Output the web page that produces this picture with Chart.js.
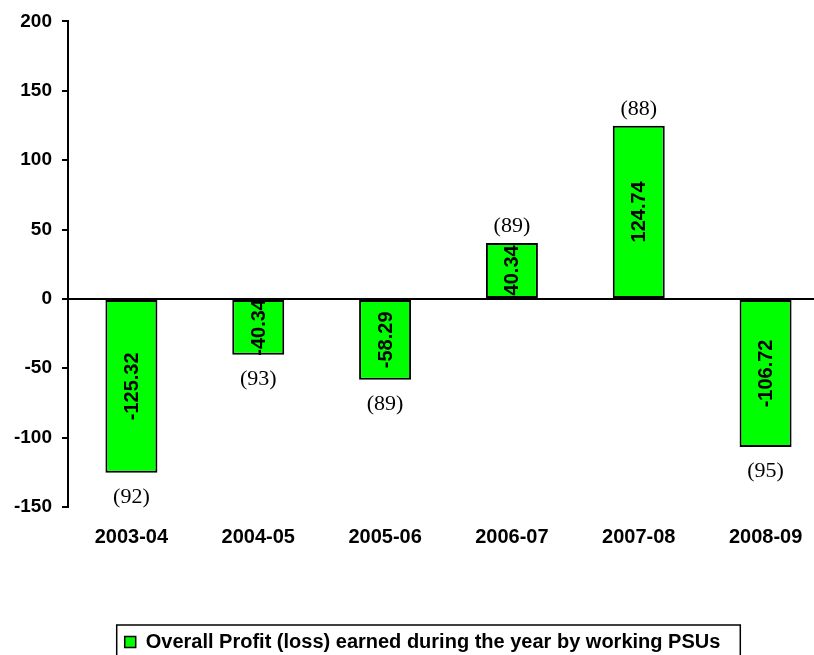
<!DOCTYPE html>
<html>
<head>
<meta charset="utf-8">
<script src="https://cdn.jsdelivr.net/npm/chart.js@4.4.0/dist/chart.umd.min.js"></script>
<style>
  html, body { margin: 0; padding: 0; background: #fff; overflow: hidden; }
  #wrap { position: absolute; left: 0; top: 0; width: 860px; height: 670px; }
</style>
</head>
<body>
<div id="wrap"><canvas id="chart" width="860" height="670"></canvas></div>
<script>
// data
const years = ['2003-04', '2004-05', '2005-06', '2006-07', '2007-08', '2008-09'];
const profit = [-125.32, -40.34, -58.29, 40.34, 124.74, -106.72];
const psuCount = [92, 93, 89, 89, 88, 95];
const seriesLabel = 'Overall Profit (loss) earned during the year by working PSUs';

const fontFamily = 'Arial, "Liberation Sans", sans-serif';
const legendShift = 8;

// value inside each bar (rotated) and the PSU count beyond the bar end
const barLabels = {
    id: 'barLabels',
    afterDatasetsDraw(chart) {
        const ctx = chart.ctx;
        const meta = chart.getDatasetMeta(0);
        meta.data.forEach(function(bar, i) {
            const v = profit[i];
            const mid = (bar.y + bar.base) / 2;
            ctx.save();
            ctx.translate(bar.x, mid);
            ctx.rotate(-Math.PI / 2);
            ctx.font = 'bold 20px ' + fontFamily;
            ctx.fillStyle = '#000';
            ctx.textAlign = 'center';
            ctx.textBaseline = 'middle';
            ctx.fillText(v.toFixed(2), 0, 1);
            ctx.restore();

            ctx.save();
            ctx.font = '22px "Times New Roman", "Liberation Serif", serif';
            ctx.fillStyle = '#000';
            ctx.textAlign = 'center';
            ctx.textBaseline = 'middle';
            const y = v >= 0 ? bar.y - 17 : bar.y + 24;
            ctx.fillText('(' + psuCount[i] + ')', bar.x, y);
            ctx.restore();
        });
    }
};

// nudge the legend a little to the right and frame it, like the spreadsheet one
const legendFrame = {
    id: 'legendFrame',
    afterLayout(chart) {
        chart.legend.left += legendShift;
        chart.legend.right += legendShift;
    },
    afterDraw(chart) {
        const hb = chart.legend.legendHitBoxes[0];
        if (!hb) return;
        const ctx = chart.ctx;
        ctx.save();
        ctx.strokeStyle = '#000';
        ctx.lineWidth = 1.5;
        const left = hb.left - 8;
        const right = hb.left + hb.width + 20;
        const top = hb.top + hb.height / 2 - 17;
        ctx.strokeRect(left, top, right - left, 36);
        ctx.restore();
    }
};

new Chart(document.getElementById('chart'), {
    type: 'bar',
    data: {
        labels: years,
        datasets: [{
            label: seriesLabel,
            data: profit,
            backgroundColor: '#00FF00',
            borderColor: '#000',
            borderWidth: 2,
            borderSkipped: false,
            barPercentage: 0.41,
            categoryPercentage: 1.0
        }]
    },
    options: {
        responsive: false,
        animation: false,
        layout: { padding: { top: 10, right: 31, bottom: 8, left: 0 } },
        plugins: {
            tooltip: { enabled: false },
            legend: {
                position: 'bottom',
                labels: {
                    color: '#000',
                    font: { family: fontFamily, size: 20, weight: 'bold' },
                    boxWidth: 11,
                    boxHeight: 11,
                    padding: 10,
                    generateLabels(chart) {
                        return [{
                            text: seriesLabel,
                            fillStyle: '#00FF00',
                            strokeStyle: '#000',
                            lineWidth: 1.5,
                            fontColor: '#000',
                            datasetIndex: 0
                        }];
                    }
                }
            }
        },
        scales: {
            x: {
                grid: { display: false, drawTicks: false },
                border: { display: false },
                ticks: { color: '#000', font: { family: fontFamily, size: 20, weight: 'bold' }, padding: 18, maxRotation: 0 },
                afterFit(scale) { scale.height = 115; }
            },
            y: {
                min: -150,
                max: 200,
                grid: {
                    drawOnChartArea: true,
                    color: function(c) { return c.tick && c.tick.value === 0 ? '#000' : 'rgba(0,0,0,0)'; },
                    tickColor: '#000',
                    tickLength: 6,
                    lineWidth: 2
                },
                border: { display: true, color: '#000', width: 2 },
                ticks: { stepSize: 50, color: '#000', font: { family: fontFamily, size: 19, weight: 'bold' }, padding: 10 },
                afterFit(scale) { scale.width = 68; }
            }
        }
    },
    plugins: [barLabels, legendFrame]
});
</script>
</body>
</html>
